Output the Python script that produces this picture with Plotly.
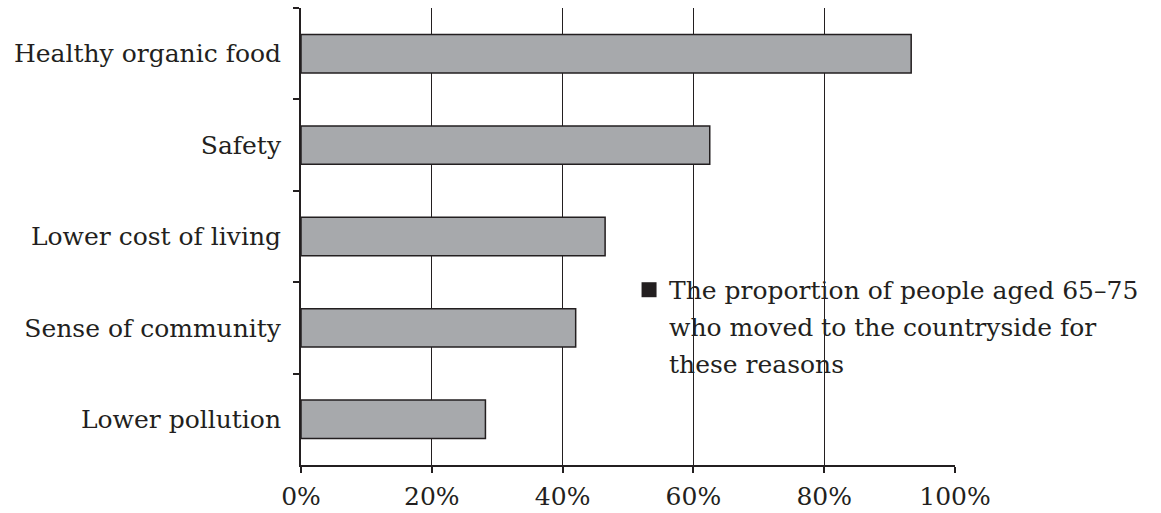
import plotly.graph_objects as go

categories = ["Healthy organic food", "Safety", "Lower cost of living", "Sense of community", "Lower pollution"]
values = [93.3, 62.5, 46.5, 42, 28.2]
x_tickvals = [0, 20, 40, 60, 80, 100]
x_ticktext = ["0%", "20%", "40%", "60%", "80%", "100%"]
legend_lines = ["The proportion of people aged 65–75", "who moved to the countryside for", "these reasons"]

INK = "#231f20"
FONT = "DejaVu Serif"
FS = 25

fig = go.Figure()
fig.add_trace(go.Bar(
    y=categories, x=values, orientation="h", width=0.42,
    marker=dict(color="#a7a9ac", line=dict(color=INK, width=1.5)),
    name=legend_lines[0], showlegend=False,
))
# legend entry (solid black square key), no visible data
fig.add_trace(go.Scatter(
    x=[None], y=[None], mode="markers", name=legend_lines[0], showlegend=True,
    hoverinfo="skip",
    marker=dict(symbol="square", size=15, color=INK, line=dict(width=0)),
))

# white gap behind legend (above gridlines, below bars)
fig.add_shape(type="rect", xref="paper", yref="paper", x0=0.495, x1=1.4, y0=0.158, y1=0.444,
              fillcolor="white", line=dict(width=0), layer="between")

for line, yy in zip(legend_lines[1:], [0.300, 0.219]):
    fig.add_annotation(text=line, xref="paper", yref="paper", x=0.5597, y=yy,
                       xanchor="left", yanchor="middle", showarrow=False,
                       font=dict(family=FONT, size=FS, color=INK))

fig.update_layout(
    width=1161, height=513,
    margin=dict(l=301, r=206, t=8, b=48),
    paper_bgcolor="white", plot_bgcolor="white",
    font=dict(family=FONT, size=FS, color=INK),
    legend=dict(x=0.5016, y=0.383, xanchor="left", yanchor="middle",
                bgcolor="rgba(0,0,0,0)", font=dict(family=FONT, size=FS, color=INK)),
    xaxis=dict(range=[0, 100], tickvals=x_tickvals, ticktext=x_ticktext,
               showgrid=True, gridcolor=INK, gridwidth=1,
               showline=True, linecolor=INK, linewidth=2,
               ticks="outside", ticklen=6, tickcolor=INK, tickwidth=2,
               zeroline=False, ticklabelstandoff=2, automargin=False),
    yaxis=dict(type="category", categoryorder="array", categoryarray=categories,
               autorange="reversed", tickson="boundaries",
               showgrid=False, showline=True, linecolor=INK, linewidth=2,
               ticks="outside", ticklen=6, tickcolor=INK, tickwidth=1.5,
               ticklabelstandoff=13, automargin=False),
)

fig.write_html("out.html", config={"displayModeBar": False},
               post_script="document.body.style.margin='0';document.body.style.padding='0';")
